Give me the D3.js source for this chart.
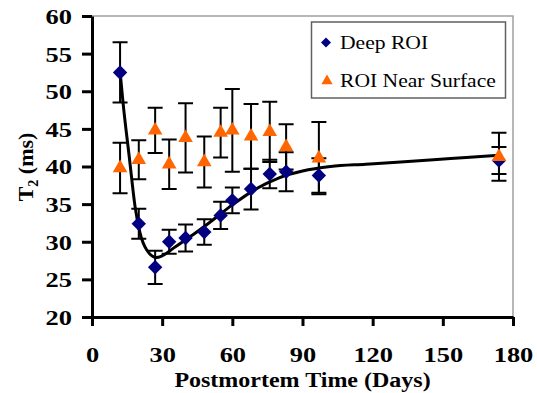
<!DOCTYPE html>
<html>
<head>
<meta charset="utf-8">
<script src="https://cdn.jsdelivr.net/npm/d3@7"></script>
<style>
  body { margin: 0; background: #fff; }
  svg { display: block; }
  svg text { font-family: "Liberation Serif", "Times New Roman", Times, "DejaVu Serif", serif; }
</style>
</head>
<body>
<div id="chart"></div>
<script>
// measurement days (same for both regions)
const days = [12, 20, 27, 33, 40, 48, 55, 60, 68, 76, 83, 97, 174];

// Deep ROI
const deepT2  = [52.5, 32.4, 26.6, 30.0, 30.5, 31.3, 33.5, 35.5, 37.0, 39.0, 39.3, 38.8, 40.8];
const deepErr = [4.0, 2.0, 2.2, 1.6, 1.8, 1.7, 1.8, 1.7, 2.7, 1.9, 2.6, 2.3, 1.8];

// ROI near surface
const surfT2  = [39.8, 40.9, 44.8, 40.3, 43.8, 40.6, 44.5, 44.8, 44.0, 44.6, 42.6, 41.1, 41.3];
const surfErr = [3.35, 2.6, 3.0, 3.3, 4.6, 3.4, 3.3, 5.5, 4.3, 4.0, 3.0, 4.8, 3.2];

// fitted curve through the deep ROI values
const fitDays = [12, 13.3, 16, 18.4, 20.5, 23.4, 27.6, 36, 43, 50, 60, 70, 80, 90, 102, 117, 132, 146, 160, 174];
const fitT2   = [52.6, 48.4, 41.1, 34.7, 31.2, 28.9, 27.9, 29.4, 30.9, 32.5, 34.9, 37.0, 38.5, 39.4, 40.0, 40.3, 40.6, 40.9, 41.2, 41.5];

const xTicks = [0, 30, 60, 90, 120, 150, 180];
const yTicks = [20, 25, 30, 35, 40, 45, 50, 55, 60];
const seriesNames = ["Deep ROI", "ROI Near Surface"];

const width = 537, height = 393;
const plot = { left: 92, right: 513, top: 16, bottom: 317 };
const stretch = "scale(1.2,1)";

const svg = d3.select("#chart")
  .append("svg")
  .attr("width", width)
  .attr("height", height);

const x = d3.scaleLinear().domain([0, 180]).range([plot.left, plot.right]);
const y = d3.scaleLinear().domain([20, 60]).range([plot.bottom, plot.top]);

// plot frame (top and right)
svg.append("path")
  .attr("d", `M${plot.left},${plot.top}H${plot.right}V${plot.bottom}`)
  .attr("fill", "none")
  .attr("stroke", "#a0a0a0")
  .attr("stroke-width", 1.5);

// axes
const yAxis = svg.append("g")
  .attr("transform", `translate(${plot.left},0)`)
  .call(d3.axisLeft(y).tickValues(yTicks).tickSize(10).tickSizeOuter(0));

const xAxis = svg.append("g")
  .attr("transform", `translate(0,${plot.bottom})`)
  .call(d3.axisBottom(x).tickValues(xTicks).tickSize(9).tickSizeOuter(0));

[xAxis, yAxis].forEach(a => {
  a.attr("font-family", null);
  a.select(".domain").attr("stroke", "#000").attr("stroke-width", 3);
  a.selectAll(".tick line").attr("stroke", "#000").attr("stroke-width", 3);
});

yAxis.selectAll(".tick text")
  .attr("x", null)
  .attr("dy", "0.34em")
  .attr("transform", "translate(-20,0) " + stretch)
  .attr("text-anchor", "end")
  .attr("font-size", 22)
  .attr("font-weight", "bold")
  .attr("fill", "#000");

xAxis.selectAll(".tick text")
  .attr("y", null)
  .attr("dy", "0.34em")
  .attr("transform", "translate(0,38) " + stretch)
  .attr("font-size", 22)
  .attr("font-weight", "bold")
  .attr("fill", "#000");

// axis titles
svg.append("text")
  .attr("transform", `translate(${(plot.left + plot.right) / 2},387) ` + stretch)
  .attr("text-anchor", "middle")
  .attr("font-size", 20)
  .attr("font-weight", "bold")
  .text("Postmortem Time (Days)");

const yTitle = svg.append("text")
  .attr("transform", "translate(33,167) rotate(-90)")
  .attr("text-anchor", "middle")
  .attr("font-size", 22)
  .attr("font-weight", "bold");
yTitle.append("tspan").text("T");
yTitle.append("tspan").attr("font-size", 14).attr("dy", 5).text("2");
yTitle.append("tspan").attr("dy", -5).text(" (ms)");

// fitted line
const line = d3.line()
  .x((d, i) => x(fitDays[i]))
  .y(d => y(d))
  .curve(d3.curveMonotoneX);

svg.append("path")
  .datum(fitT2)
  .attr("d", line)
  .attr("fill", "none")
  .attr("stroke", "#000")
  .attr("stroke-width", 3);

// error bars
function errorBars(values, errs) {
  const g = svg.append("g").attr("stroke", "#000").attr("stroke-width", 2);
  g.selectAll(".bar")
    .data(values)
    .enter()
    .append("path")
    .attr("d", (d, i) => {
      const cx = x(days[i]), hi = y(d + errs[i]), lo = y(d - errs[i]);
      return `M${cx},${hi}V${lo}M${cx - 7.5},${hi}H${cx + 7.5}M${cx - 7.5},${lo}H${cx + 7.5}`;
    });
}
errorBars(deepT2, deepErr);
errorBars(surfT2, surfErr);

// markers
const diamond = d3.symbol().type(d3.symbolSquare).size(104);
const triangle = d3.symbol().type(d3.symbolTriangle).size(92);

svg.selectAll(".deep")
  .data(deepT2)
  .enter()
  .append("path")
  .attr("d", diamond)
  .attr("transform", (d, i) => `translate(${x(days[i])},${y(d)}) rotate(45)`)
  .attr("fill", "#000080");

svg.selectAll(".surf")
  .data(surfT2)
  .enter()
  .append("path")
  .attr("d", triangle)
  .attr("transform", (d, i) => `translate(${x(days[i])},${y(d)})`)
  .attr("fill", "#ff6600");

// legend
const legend = svg.append("g");
legend.append("rect")
  .attr("x", 311.5).attr("y", 22)
  .attr("width", 194).attr("height", 76)
  .attr("fill", "#fff")
  .attr("stroke", "#606060")
  .attr("stroke-width", 1.5);

legend.append("path")
  .attr("d", d3.symbol().type(d3.symbolSquare).size(50))
  .attr("transform", "translate(326,42.5) rotate(45)")
  .attr("fill", "#000080");
legend.append("path")
  .attr("d", d3.symbol().type(d3.symbolTriangle).size(55))
  .attr("transform", "translate(327,81)")
  .attr("fill", "#ff6600");

legend.selectAll(".label")
  .data(seriesNames)
  .enter()
  .append("text")
  .attr("transform", (d, i) => `translate(340,${49 + i * 38}) ` + stretch)
  .attr("font-size", 18)
  .attr("fill", "#000")
  .text(d => d);
</script>
</body>
</html>
